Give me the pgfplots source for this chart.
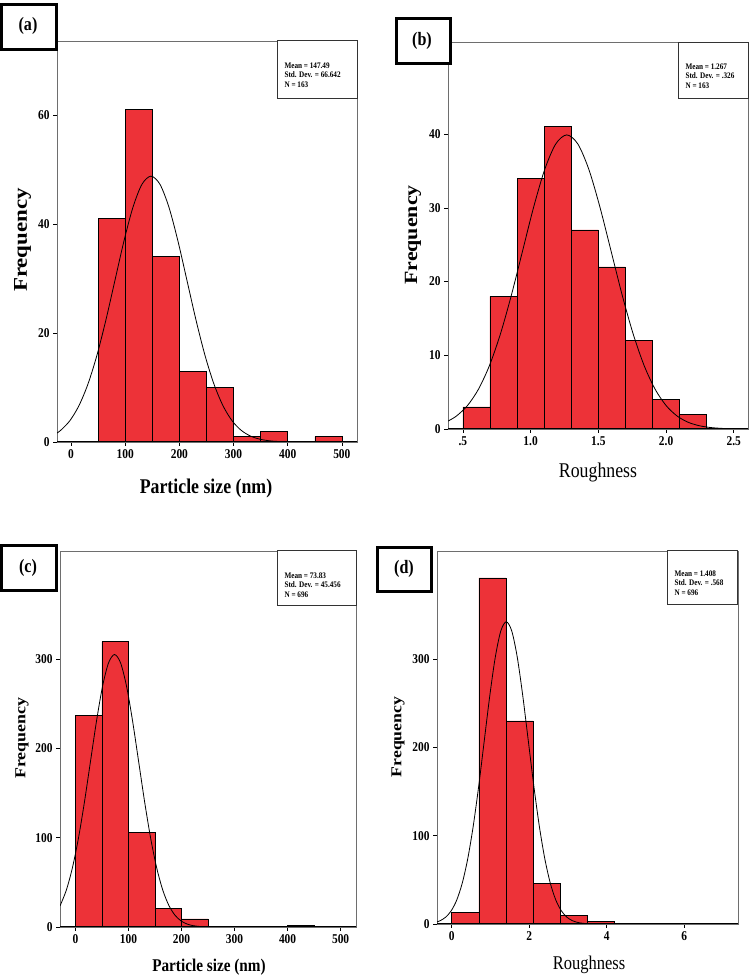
\documentclass[border=0pt]{standalone}
\usepackage{pgfplots}
\pgfplotsset{compat=1.18}
\usepackage{fontspec}
\setmainfont{Liberation Serif}
\usepackage{graphicx}
\definecolor{barred}{RGB}{237,50,56}
\definecolor{framegray}{RGB}{110,110,110}
\newcommand{\sq}[1]{\scalebox{0.85}[1]{#1}}
\newcommand{\sqv}[1]{\scalebox{1}[0.85]{#1}}
\pgfplotsset{
  hist/.style={
    scale only axis, anchor=south west,
    axis line style={framegray, line width=0.8bp},
    tick align=outside, xtick pos=left, ytick pos=left,
    major tick length=4bp, tick style={black, line width=0.6bp},
    ymin=0,
    /pgf/number format/assume math mode=true,
    tick label style={font=\fontsize{13.5}{13.5}\selectfont\bfseries},
    xticklabel={\sq{\pgfmathprintnumber{\tick}}},
    yticklabel={\sq{\pgfmathprintnumber{\tick}}},
  },
  bars/.style={ybar interval, fill=barred, draw=black, line width=0.5bp, mark=none},
  curve/.style={black, line width=0.8bp, smooth, mark=none},
}
\begin{document}
\begin{tikzpicture}[x=1bp,y=1bp]
\path[use as bounding box] (0,0) rectangle (749,977);

% ---------------- (a)
\begin{axis}[hist, at={(57bp,535bp)}, width=300bp, height=401bp,
  xmin=-26, xmax=528, ymax=73.6,
  xtick={0,100,200,300,400,500}, ytick={0,20,40,60}]
\addplot[bars] coordinates {(50,41) (100,61) (150,34) (200,13) (250,10) (300,1) (350,2) (400,0) (450,1) (500,0)};
\addplot[curve] coordinates {(-26,1.65) (-19.12,2.144) (-2.45,3.882) (14.21,6.603) (30.87,10.552) (47.53,15.840) (64.19,22.338) (80.85,29.593) (97.51,36.829) (114.17,43.057) (130.83,47.289) (147.49,48.79) (164.15,47.289) (180.81,43.057) (197.47,36.829) (214.13,29.593) (230.79,22.338) (247.45,15.840) (264.11,10.552) (280.77,6.603) (297.43,3.882) (314.09,2.144) (330.76,1.112) (347.42,0.542) (364.08,0.248) (380.74,0.107) (414.06,0.016) (480.7,0.0) (528,0)};
\draw[black, line width=1.1bp] (rel axis cs:0,0) -- (rel axis cs:1,0);
\end{axis}

% ---------------- (b)
\begin{axis}[hist, at={(448bp,548bp)}, width=300bp, height=387bp,
  xmin=0.39, xmax=2.605, ymax=52.5,
  xtick={0.5,1,1.5,2,2.5}, ytick={0,10,20,30,40},
  xticklabels={\sq{.5},\sq{1.0},\sq{1.5},\sq{2.0},\sq{2.5}}]
\addplot[bars] coordinates {(0.5,3) (0.7,18) (0.9,34) (1.1,41) (1.3,27) (1.5,22) (1.7,12) (1.9,4) (2.1,2) (2.3,0)};
\addplot[curve] coordinates {(0.39,1.071) (0.452,1.753) (0.5335,3.174) (0.615,5.399) (0.6965,8.628) (0.778,12.951) (0.8595,18.265) (0.941,24.197) (1.0225,30.114) (1.104,35.206) (1.1855,38.666) (1.267,39.894) (1.3485,38.666) (1.430,35.206) (1.5115,30.114) (1.593,24.197) (1.6745,18.265) (1.756,12.951) (1.8375,8.628) (1.919,5.399) (2.0005,3.174) (2.082,1.753) (2.1635,0.909) (2.245,0.443) (2.3265,0.203) (2.408,0.087) (2.4895,0.035) (2.571,0.013) (2.605,0.0085)};
\draw[black, line width=1.1bp] (rel axis cs:0,0) -- (rel axis cs:1,0);
\end{axis}

% ---------------- (c)
\begin{axis}[hist, at={(60bp,50bp)}, width=296bp, height=376bp,
  xmin=-29, xmax=529, ymax=421.5,
  xtick={0,100,200,300,400,500}, ytick={0,100,200,300}]
\addplot[bars] coordinates {(0,237) (50,320) (100,106) (150,21) (200,9) (250,0) (300,0) (350,1) (400,2) (450,0) (500,0)};
\addplot[curve] coordinates {(-29,23.6) (-17.08,41.34) (-5.72,66.05) (5.65,99.15) (17.01,139.83) (28.37,185.25) (39.74,230.54) (51.10,269.53) (62.47,296.02) (73.83,305.42) (85.19,296.02) (96.56,269.53) (107.92,230.54) (119.29,185.25) (130.65,139.83) (142.01,99.15) (153.38,66.05) (164.74,41.34) (176.11,24.30) (187.47,13.42) (198.84,6.96) (210.20,3.39) (221.56,1.55) (232.93,0.668) (244.29,0.270) (255.65,0.102) (301.1,0.0) (529,0)};
\draw[black, line width=1.1bp] (rel axis cs:0,0) -- (rel axis cs:1,0);
\end{axis}

% ---------------- (d)
\begin{axis}[hist, at={(437bp,53bp)}, width=301bp, height=373bp,
  xmin=-0.38, xmax=7.39, ymax=422.3,
  xtick={0,2,4,6}, ytick={0,100,200,300}]
\addplot[bars] coordinates {(0,13) (0.7,392) (1.4,230) (2.1,46) (2.8,10) (3.5,3) (4.2,0) (4.9,0) (5.6,1) (6.3,1) (7.0,0)};
\addplot[curve] coordinates {(-0.38,2.41) (-0.296,3.80) (-0.154,7.80) (-0.012,15.04) (0.130,27.22) (0.272,46.31) (0.414,74.01) (0.556,111.09) (0.698,156.66) (0.840,207.55) (0.982,258.30) (1.124,301.98) (1.266,331.66) (1.408,342.19) (1.550,331.66) (1.692,301.98) (1.834,258.30) (1.976,207.55) (2.118,156.66) (2.260,111.09) (2.402,74.01) (2.544,46.31) (2.686,27.22) (2.828,15.04) (2.970,7.80) (3.112,3.80) (3.254,1.74) (3.396,0.748) (3.538,0.302) (3.680,0.115) (4.248,0.0) (7.39,0)};
\draw[black, line width=1.1bp] (rel axis cs:0,0) -- (rel axis cs:1,0);
\end{axis}

% ---------------- axis labels
\node[font=\fontsize{21}{21}\selectfont\bfseries] at (206,489) {\sq{Particle size (nm)}};
\node[font=\fontsize{23}{23}\selectfont\bfseries, rotate=90] at (22.5,737) {\sqv{Frequency}};
\node[font=\fontsize{21}{21}\selectfont] at (598,504) {\sq{Roughness}};
\node[font=\fontsize{22}{22}\selectfont\bfseries, rotate=90] at (413,742) {\sqv{Frequency}};
\node[font=\fontsize{18}{18}\selectfont\bfseries] at (209,10) {\sq{Particle size (nm)}};
\node[font=\fontsize{18}{18}\selectfont\bfseries, rotate=90] at (22,239) {\sqv{Frequency}};
\node[font=\fontsize{19.5}{19.5}\selectfont] at (589,12) {\sq{Roughness}};
\node[font=\fontsize{17.8}{17.8}\selectfont\bfseries, rotate=90] at (398,240) {\sqv{Frequency}};

% ---------------- stats boxes
\draw[black!80, line width=1bp, fill=white] (277,936) rectangle (357,878);
\node[anchor=west, align=left, font=\fontsize{8.5}{9.5}\selectfont\bfseries] at (281,902) {\sq{Mean = 147.49}\\\sq{Std. Dev. = 66.642}\\\sq{N = 163}};
\draw[black!80, line width=1bp, fill=white] (678,934) rectangle (748,878);
\node[anchor=west, align=left, font=\fontsize{8.5}{9.5}\selectfont\bfseries] at (682,901) {\sq{Mean = 1.267}\\\sq{Std. Dev. = .326}\\\sq{N = 163}};
\draw[black!80, line width=1bp, fill=white] (277,426) rectangle (356,371);
\node[anchor=west, align=left, font=\fontsize{8.5}{9.5}\selectfont\bfseries] at (281,392) {\sq{Mean = 73.83}\\\sq{Std. Dev. = 45.456}\\\sq{N = 696}};
\draw[black!80, line width=1bp, fill=white] (667,426) rectangle (737,372);
\node[anchor=west, align=left, font=\fontsize{8.5}{9.5}\selectfont\bfseries] at (671,394) {\sq{Mean = 1.408}\\\sq{Std. Dev. = .568}\\\sq{N = 696}};

% ---------------- panel label boxes
\draw[black, line width=3bp, fill=white] (1.5,972.5) rectangle (56.5,927.5);
\node[font=\fontsize{19}{19}\selectfont\bfseries] at (28,951) {\sq{(a)}};
\draw[black, line width=3bp, fill=white] (396.5,958.5) rectangle (450.5,913.5);
\node[font=\fontsize{19}{19}\selectfont\bfseries] at (422,936) {\sq{(b)}};
\draw[black, line width=3bp, fill=white] (1.5,431.5) rectangle (56.5,386.5);
\node[font=\fontsize{19}{19}\selectfont\bfseries] at (28,409) {\sq{(c)}};
\draw[black, line width=3bp, fill=white] (377.5,429.5) rectangle (431.5,385.5);
\node[font=\fontsize{19}{19}\selectfont\bfseries] at (404,408) {\sq{(d)}};
\end{tikzpicture}
\end{document}
